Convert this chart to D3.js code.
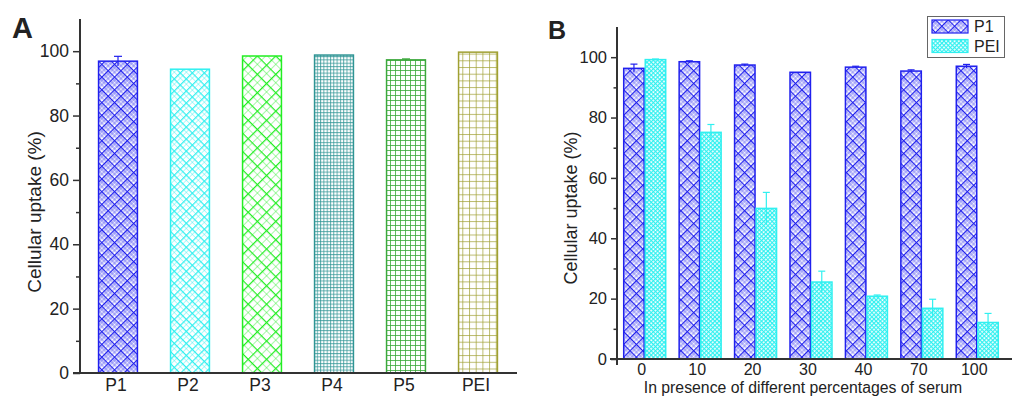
<!DOCTYPE html>
<html>
<head>
<meta charset="utf-8">
<script src="https://cdn.jsdelivr.net/npm/d3@7"></script>
<style>
	body { margin: 0; background: #fff; }
	text { font-family: "Liberation Sans", Arial, sans-serif; fill: #222; }
</style>
</head>
<body>
<div id="chart"></div>
<script>
// panel A data
var polymers = ["P1", "P2", "P3", "P4", "P5", "PEI"];
var uptakeA = [96.9, 94.4, 98.5, 98.8, 97.3, 99.7];
var errA = [1.5, 0, 0, 0, 0.3, 0];

// panel B data
var serum = ["0", "10", "20", "30", "40", "70", "100"];
var seriesB = ["P1", "PEI"];
var uptakeP1 = [96.3, 98.5, 97.4, 95.0, 96.7, 95.4, 97.0];
var errP1 = [1.4, 0.3, 0.3, 0, 0.3, 0.4, 0.6];
var uptakePEI = [99.2, 75.1, 49.9, 25.5, 20.8, 16.8, 12.1];
var errPEI = [0.2, 2.6, 5.3, 3.6, 0.4, 3.0, 3.0];

var yTicks = [0, 20, 40, 60, 80, 100];

var svg = d3.select("#chart").append("svg")
	.attr("width", 1014)
	.attr("height", 396);

var defs = svg.append("defs");

// rotated cross-hatch, like Origin's pattern fills
function diagPattern(id, color, step, fine, op) {
	var p = defs.append("pattern")
		.attr("id", id)
		.attr("patternUnits", "userSpaceOnUse")
		.attr("width", step)
		.attr("height", step)
		.attr("patternTransform", "rotate(45)");
	p.append("rect").attr("width", step).attr("height", step).attr("fill", "#fff");
	for (var i = fine; i < step; i += fine) {
		p.append("line").attr("x1", i).attr("x2", i).attr("y1", 0).attr("y2", step)
			.attr("stroke", color).attr("stroke-opacity", op).attr("stroke-width", 1);
		p.append("line").attr("y1", i).attr("y2", i).attr("x1", 0).attr("x2", step)
			.attr("stroke", color).attr("stroke-opacity", op).attr("stroke-width", 1);
	}
	p.append("line").attr("x1", 0.6).attr("x2", 0.6).attr("y1", 0).attr("y2", step)
		.attr("stroke", color).attr("stroke-width", 1.2);
	p.append("line").attr("y1", 0.6).attr("y2", 0.6).attr("x1", 0).attr("x2", step)
		.attr("stroke", color).attr("stroke-width", 1.2);
}

function gridPattern(id, color, step, op) {
	var p = defs.append("pattern")
		.attr("id", id)
		.attr("patternUnits", "userSpaceOnUse")
		.attr("width", step)
		.attr("height", step);
	p.append("rect").attr("width", step).attr("height", step).attr("fill", "#fff");
	p.append("line").attr("x1", 0.5).attr("x2", 0.5).attr("y1", 0).attr("y2", step)
		.attr("stroke", color).attr("stroke-opacity", op).attr("stroke-width", 1);
	p.append("line").attr("y1", 0.5).attr("y2", 0.5).attr("x1", 0).attr("x2", step)
		.attr("stroke", color).attr("stroke-opacity", op).attr("stroke-width", 1);
}

var colA = {P1: "#2020ee", P2: "#30f0f0", P3: "#22ee22", P4: "#2e9494", P5: "#3aa83a", PEI: "#a0a032"};
diagPattern("patP1", colA.P1, 9, 3, 0.5);
diagPattern("patP2", colA.P2, 8.5, 4.25, 0.4);
diagPattern("patP3", colA.P3, 13, 6.5, 0.4);
gridPattern("patP4", colA.P4, 3.3, 0.75);
gridPattern("patP5", colA.P5, 5, 0.8);
gridPattern("patPEI", colA.PEI, 6.7, 0.7);
diagPattern("patB1", colA.P1, 9, 3, 0.45);
diagPattern("patB2", "#30f0f0", 3, 3, 0.4);

// ---------------- panel A ----------------
var yA = d3.scaleLinear().domain([0, 110]).range([373, 19]);
var xA = d3.scaleBand().domain(polymers).range([82, 514]).paddingInner(0.46).paddingOuter(0.23);

var gA = svg.append("g");

gA.selectAll("rect.bar")
	.data(polymers)
	.enter()
	.append("rect")
	.attr("class", "bar")
	.attr("x", function(d) { return xA(d); })
	.attr("width", xA.bandwidth())
	.attr("y", function(d, i) { return yA(uptakeA[i]); })
	.attr("height", function(d, i) { return yA(0) - yA(uptakeA[i]); })
	.attr("fill", function(d) { return "url(#pat" + d + ")"; })
	.attr("stroke", function(d) { return colA[d]; })
	.attr("stroke-width", 1.5);

gA.selectAll("g.err")
	.data(polymers.filter(function(d, i) { return errA[i] > 0; }))
	.enter()
	.append("g")
	.each(function(d) {
		var i = polymers.indexOf(d);
		var cx = xA(d) + xA.bandwidth() / 2;
		var g = d3.select(this);
		g.append("line").attr("x1", cx).attr("x2", cx)
			.attr("y1", yA(uptakeA[i] - errA[i])).attr("y2", yA(uptakeA[i] + errA[i]))
			.attr("stroke", colA[d]).attr("stroke-width", 1.2);
		g.append("line").attr("x1", cx - 4).attr("x2", cx + 4)
			.attr("y1", yA(uptakeA[i] + errA[i])).attr("y2", yA(uptakeA[i] + errA[i]))
			.attr("stroke", colA[d]).attr("stroke-width", 1.2);
	});

// y axis A
var axA = gA.append("g").attr("transform", "translate(80,0)")
	.call(d3.axisLeft(yA).tickValues(yTicks).tickSize(7).tickPadding(4));
axA.select(".domain").remove();
gA.append("g").attr("transform", "translate(80,0)")
	.call(d3.axisLeft(yA).tickValues([10, 30, 50, 70, 90]).tickSize(4).tickFormat(""))
	.select(".domain").remove();
gA.append("line").attr("x1", 80).attr("x2", 80).attr("y1", yA(110)).attr("y2", yA(0))
	.attr("stroke", "#333").attr("stroke-width", 2);
gA.selectAll(".tick line").attr("stroke", "#333").attr("stroke-width", 1.5);
axA.selectAll("text").style("font-size", "17.5px").attr("fill", "#222")
	.style("font-family", "'Liberation Sans', Arial, sans-serif");

// x axis A
gA.append("line").attr("x1", 73).attr("x2", 517).attr("y1", yA(0)).attr("y2", yA(0))
	.attr("stroke", "#333").attr("stroke-width", 2);
gA.selectAll("text.xl")
	.data(polymers)
	.enter()
	.append("text")
	.attr("class", "xl")
	.attr("x", function(d) { return xA(d) + xA.bandwidth() / 2 - 2; })
	.attr("y", 391)
	.attr("text-anchor", "middle")
	.style("font-size", "17.5px")
	.text(function(d) { return d; });

gA.append("text")
	.attr("transform", "translate(41,212) rotate(-90)")
	.attr("text-anchor", "middle")
	.style("font-size", "19px")
	.text("Cellular uptake (%)");

svg.append("text").attr("x", 12).attr("y", 38)
	.style("font-size", "29px").style("font-weight", "bold").attr("fill", "#000")
	.text("A");

// ---------------- panel B ----------------
var yB = d3.scaleLinear().domain([0, 110]).range([359, 27]);
var xB = d3.scaleBand().domain(serum).range([617, 1005]);
var xBin = d3.scaleBand().domain(seriesB).range([-21, 21]).paddingInner(0.05);
var colB = {P1: "#2020ee", PEI: "#30f0f0"};
var patB = {P1: "url(#patB1)", PEI: "url(#patB2)"};
var valsB = {P1: uptakeP1, PEI: uptakePEI};
var errsB = {P1: errP1, PEI: errPEI};

var gB = svg.append("g");

seriesB.forEach(function(s) {
	gB.selectAll("rect.b" + s)
		.data(serum)
		.enter()
		.append("rect")
		.attr("x", function(d) { return xB(d) + xB.bandwidth() / 2 + xBin(s); })
		.attr("width", xBin.bandwidth())
		.attr("y", function(d, i) { return yB(valsB[s][i]); })
		.attr("height", function(d, i) { return yB(0) - yB(valsB[s][i]); })
		.attr("fill", patB[s])
		.attr("stroke", colB[s])
		.attr("stroke-width", 1.5);

	gB.selectAll("g.e" + s)
		.data(serum)
		.enter()
		.append("g")
		.each(function(d, i) {
			var e = errsB[s][i];
			if (e <= 0) return;
			var v = valsB[s][i];
			var cx = xB(d) + xB.bandwidth() / 2 + xBin(s) + xBin.bandwidth() / 2;
			var g = d3.select(this);
			g.append("line").attr("x1", cx).attr("x2", cx)
				.attr("y1", yB(v - e)).attr("y2", yB(v + e))
				.attr("stroke", colB[s]).attr("stroke-width", 1.2);
			g.append("line").attr("x1", cx - 3.5).attr("x2", cx + 3.5)
				.attr("y1", yB(v + e)).attr("y2", yB(v + e))
				.attr("stroke", colB[s]).attr("stroke-width", 1.2);
		});
});

// y axis B
var axB = gB.append("g").attr("transform", "translate(617,0)")
	.call(d3.axisLeft(yB).tickValues(yTicks).tickSize(6).tickPadding(4));
axB.select(".domain").remove();
gB.append("g").attr("transform", "translate(617,0)")
	.call(d3.axisLeft(yB).tickValues([10, 30, 50, 70, 90]).tickSize(3.5).tickFormat(""))
	.select(".domain").remove();
gB.append("line").attr("x1", 617).attr("x2", 617).attr("y1", yB(110)).attr("y2", yB(0) + 6)
	.attr("stroke", "#333").attr("stroke-width", 2);
gB.selectAll(".tick line").attr("stroke", "#333").attr("stroke-width", 1.5);
axB.selectAll("text").style("font-size", "16.5px").attr("fill", "#222")
	.style("font-family", "'Liberation Sans', Arial, sans-serif");

// x axis B
gB.append("line").attr("x1", 610).attr("x2", 1012).attr("y1", yB(0)).attr("y2", yB(0))
	.attr("stroke", "#333").attr("stroke-width", 2);
gB.selectAll("text.xl")
	.data(serum)
	.enter()
	.append("text")
	.attr("x", function(d) { return xB(d) + xB.bandwidth() / 2 - 3; })
	.attr("y", 374.5)
	.attr("text-anchor", "middle")
	.style("font-size", "16px")
	.text(function(d) { return d; });

gB.append("text")
	.attr("x", 803)
	.attr("y", 393)
	.attr("text-anchor", "middle")
	.style("font-size", "15.8px")
	.text("In presence of different percentages of serum");

gB.append("text")
	.attr("transform", "translate(577,208) rotate(-90)")
	.attr("text-anchor", "middle")
	.style("font-size", "18px")
	.text("Cellular uptake (%)");

svg.append("text").attr("x", 548).attr("y", 39)
	.style("font-size", "25px").style("font-weight", "bold").attr("fill", "#000")
	.text("B");

// legend
var leg = svg.append("g");
leg.append("rect").attr("x", 927.5).attr("y", 16.5).attr("width", 77).attr("height", 41)
	.attr("fill", "#fff").attr("stroke", "#666").attr("stroke-width", 1);
seriesB.forEach(function(s, i) {
	leg.append("rect").attr("x", 932).attr("y", 20 + i * 19.5).attr("width", 36).attr("height", 13)
		.attr("fill", patB[s]).attr("stroke", colB[s]).attr("stroke-width", 1.2);
	leg.append("text").attr("x", 974).attr("y", 32 + i * 19.5)
		.style("font-size", "16px").text(s);
});
</script>
</body>
</html>
